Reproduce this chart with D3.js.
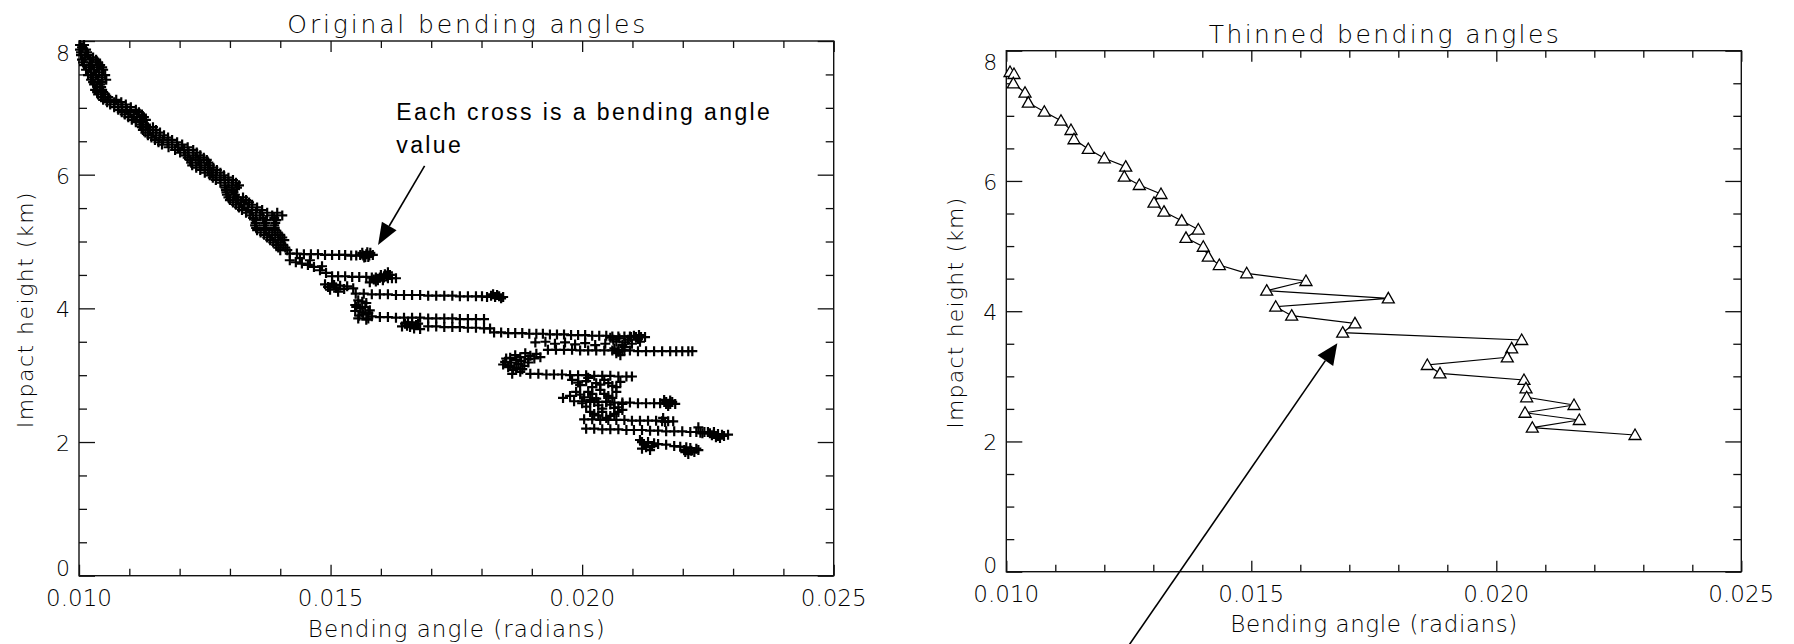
<!DOCTYPE html>
<html>
<head>
<meta charset="utf-8">
<script src="https://cdn.jsdelivr.net/npm/d3@7"></script>
<style>
  html, body { margin: 0; padding: 0; background: #fff; }
  svg { display: block; }
  .lbl { font-family: "DejaVu Sans", sans-serif; font-weight: 200; fill: #000; }
  .note { font-family: "Liberation Sans", Arial, sans-serif; fill: #000; }
</style>
</head>
<body>
<svg id="chart" width="1794" height="644"></svg>
<script>
// ---------------- data ----------------
// Original (unthinned) bending angles: [angle (rad), impact height (km)]
const origUpper = [
  [0.01002,7.94],[0.01010,7.94],[0.01002,7.87],[0.01014,7.87],[0.01004,7.79],[0.01018,7.79],
  [0.01006,7.72],[0.01022,7.72],[0.01034,7.72],[0.01010,7.64],[0.01026,7.64],[0.01042,7.64],
  [0.01014,7.57],[0.01030,7.57],[0.01048,7.57],[0.01018,7.49],[0.01034,7.49],[0.01052,7.49],
  [0.01024,7.42],[0.01038,7.42],[0.01054,7.42],[0.01030,7.35],[0.01042,7.35],
  [0.01032,7.27],[0.01046,7.27],[0.01038,7.20],[0.01052,7.20],
  [0.01048,7.12],[0.01062,7.12],[0.01074,7.12],[0.01062,7.05],[0.01078,7.05],[0.01093,7.05],
  [0.01078,6.97],[0.01095,6.97],[0.01113,6.97],[0.01091,6.90],[0.01109,6.90],[0.01125,6.90],
  [0.01105,6.82],[0.01121,6.82],[0.01133,6.82],[0.01121,6.75],[0.01133,6.75],
  [0.01127,6.67],[0.01141,6.67],[0.01153,6.67],[0.01137,6.59],[0.01153,6.59],[0.01169,6.59],
  [0.01151,6.52],[0.01167,6.52],[0.01185,6.52],[0.01165,6.45],[0.01185,6.45],[0.01205,6.45],
  [0.01191,6.37],[0.01209,6.37],[0.01227,6.37],[0.01211,6.29],[0.01227,6.29],[0.01241,6.29],
  [0.01221,6.22],[0.01237,6.22],[0.01254,6.22],[0.01225,6.14],[0.01243,6.14],[0.01260,6.14],
  [0.01241,6.07],[0.01256,6.07],[0.01274,6.07],[0.01260,5.99],[0.01272,5.99],[0.01288,5.99],
  [0.01272,5.92],[0.01290,5.92],[0.01306,5.92],[0.01290,5.84],[0.01304,5.84],[0.01318,5.84],
  [0.01292,5.77],[0.01304,5.77],[0.01294,5.70],[0.01310,5.70],
  [0.01300,5.62],[0.01316,5.62],[0.01332,5.62],[0.01312,5.55],[0.01328,5.55],[0.01344,5.55],
  [0.01324,5.47],[0.01344,5.47],[0.01364,5.47],[0.01340,5.39],[0.01360,5.39],[0.01384,5.39],[0.01404,5.39],
  [0.01352,5.32],[0.01372,5.32],[0.01392,5.32],[0.01350,5.24],[0.01368,5.24],[0.01388,5.24],
  [0.01354,5.17],[0.01372,5.17],[0.01390,5.17],[0.01368,5.10],[0.01384,5.10],[0.01400,5.10],
  [0.01380,5.02],[0.01396,5.02],[0.01408,5.02],[0.01392,4.95],[0.01406,4.95],
  [0.01400,4.87],[0.01414,4.87]
];
const origUpperDense = [
  [0.01006,7.905],[0.01004,7.83],[0.01016,7.83],[0.01012,7.755],[0.01028,7.755],
  [0.01008,7.68],[0.01024,7.68],[0.01038,7.68],[0.01020,7.605],[0.01036,7.605],[0.01046,7.605],
  [0.01024,7.53],[0.01040,7.53],[0.01028,7.455],[0.01046,7.455],[0.01028,7.385],[0.01046,7.385],
  [0.01036,7.31],[0.01044,7.31],[0.01036,7.235],[0.01048,7.235],[0.01044,7.16],[0.01058,7.16],
  [0.01056,7.085],[0.01070,7.085],[0.01084,7.085],[0.01070,7.01],[0.01086,7.01],[0.01103,7.01],
  [0.01085,6.935],[0.01102,6.935],[0.01119,6.935],[0.01098,6.86],[0.01115,6.86],[0.01129,6.86],
  [0.01113,6.785],[0.01127,6.785],[0.01125,6.71],[0.01137,6.71],[0.01147,6.71],
  [0.01132,6.63],[0.01147,6.63],[0.01161,6.63],[0.01144,6.555],[0.01160,6.555],[0.01177,6.555],
  [0.01158,6.485],[0.01176,6.485],[0.01195,6.485],[0.01178,6.41],[0.01197,6.41],[0.01216,6.41],
  [0.01201,6.33],[0.01218,6.33],[0.01234,6.33],[0.01216,6.255],[0.01232,6.255],[0.01248,6.255],
  [0.01223,6.18],[0.01240,6.18],[0.01257,6.18],[0.01233,6.105],[0.01250,6.105],[0.01267,6.105],
  [0.01250,6.03],[0.01264,6.03],[0.01281,6.03],[0.01266,5.955],[0.01281,5.955],[0.01297,5.955],
  [0.01281,5.88],[0.01297,5.88],[0.01312,5.88],[0.01291,5.805],[0.01304,5.805],[0.01314,5.805],
  [0.01293,5.735],[0.01307,5.735],[0.01297,5.66],[0.01313,5.66],[0.01326,5.66],
  [0.01306,5.585],[0.01322,5.585],[0.01338,5.585],[0.01318,5.51],[0.01336,5.51],[0.01354,5.51],
  [0.01332,5.43],[0.01352,5.43],[0.01374,5.43],[0.01394,5.43],[0.01346,5.355],[0.01366,5.355],[0.01388,5.355],
  [0.01351,5.28],[0.01370,5.28],[0.01390,5.28],[0.01352,5.205],[0.01370,5.205],[0.01389,5.205],
  [0.01361,5.135],[0.01378,5.135],[0.01395,5.135],[0.01374,5.06],[0.01390,5.06],[0.01404,5.06],
  [0.01386,4.985],[0.01401,4.985],[0.01396,4.91],[0.01410,4.91]
];
const origMiddle = [
  // ~4.8 km run
  [0.01419,4.82],[0.01433,4.82],[0.01447,4.81],[0.01461,4.81],[0.01475,4.81],[0.01489,4.80],
  [0.01503,4.80],[0.01517,4.80],[0.01529,4.80],[0.01541,4.79],[0.01551,4.79],[0.01559,4.80],
  [0.01565,4.79],[0.01571,4.81],[0.01577,4.79],[0.01584,4.80],[0.01563,4.83],[0.01569,4.77],
  [0.01573,4.84],[0.01579,4.83],[0.01567,4.76],[0.01575,4.77],
  [0.01439,4.75],[0.01459,4.72],[0.01419,4.72],[0.01431,4.69],[0.01443,4.67],[0.01455,4.65],
  [0.01467,4.62],[0.01483,4.63],[0.01479,4.57],[0.01491,4.53],[0.01503,4.48],
  // ~4.45 km run
  [0.01515,4.48],[0.01529,4.48],[0.01543,4.47],[0.01557,4.47],[0.01571,4.47],[0.01582,4.46],
  [0.01590,4.46],[0.01598,4.46],[0.01606,4.46],[0.01614,4.45],[0.01622,4.45],[0.01630,4.45],
  [0.01578,4.39],[0.01594,4.42],[0.01608,4.51],[0.01614,4.54],[0.01586,4.43],
  [0.01600,4.50],[0.01604,4.42],[0.01612,4.49],[0.01618,4.50],[0.01590,4.40],
  [0.01489,4.36],[0.01503,4.37],[0.01519,4.34],[0.01533,4.33],[0.01545,4.30],[0.01499,4.28],[0.01515,4.25],
  [0.01495,4.32],[0.01511,4.31],[0.01527,4.29],[0.01507,4.35],
  // ~4.2 km run
  [0.01550,4.22],[0.01566,4.22],[0.01582,4.21],[0.01598,4.21],[0.01614,4.21],[0.01630,4.20],
  [0.01646,4.20],[0.01662,4.20],[0.01678,4.20],[0.01694,4.19],[0.01710,4.19],[0.01726,4.19],
  [0.01742,4.19],[0.01757,4.18],[0.01773,4.18],[0.01789,4.18],[0.01801,4.18],[0.01811,4.17],
  [0.01819,4.19],[0.01827,4.17],[0.01835,4.18],[0.01843,4.17],[0.01831,4.20],[0.01839,4.15],[0.01823,4.21],
  [0.01555,4.12],[0.01571,4.08],[0.01559,4.00],[0.01578,3.97],[0.01565,3.91],[0.01582,3.88],
  [0.01571,3.83],[0.01555,3.85],[0.01549,4.05],[0.01563,3.94],
  [0.01563,4.10],[0.01551,4.02],[0.01569,4.02],[0.01575,3.93],[0.01557,3.89],[0.01575,3.85],[0.01549,3.96],
  // ~3.85 km run
  [0.01598,3.87],[0.01614,3.87],[0.01630,3.86],[0.01646,3.86],[0.01662,3.86],[0.01678,3.86],
  [0.01694,3.85],[0.01710,3.85],[0.01726,3.85],[0.01742,3.85],[0.01757,3.84],[0.01773,3.84],
  [0.01789,3.84],[0.01805,3.84],
  [0.01648,3.77],[0.01658,3.72],[0.01670,3.75],[0.01678,3.69],[0.01662,3.79],[0.01652,3.74],
  [0.01654,3.79],[0.01666,3.70],[0.01674,3.77],[0.01642,3.73],
  [0.01694,3.73],[0.01710,3.73],[0.01726,3.72],[0.01742,3.72],[0.01757,3.72],[0.01773,3.71],
  [0.01789,3.71],[0.01805,3.70],[0.01817,3.70]
];
const origLower = [
  // ~3.6 km run
  [0.01825,3.64],[0.01839,3.64],[0.01853,3.63],[0.01867,3.63],[0.01881,3.63],[0.01895,3.62],
  [0.01909,3.62],[0.01922,3.62],[0.01936,3.61],[0.01950,3.61],[0.01964,3.61],[0.01978,3.60],
  [0.01992,3.60],[0.02006,3.60],[0.02020,3.59],[0.02034,3.59],[0.02048,3.59],[0.02060,3.58],
  [0.02072,3.58],[0.02084,3.58],[0.02095,3.58],[0.02107,3.57],[0.02117,3.57],[0.02125,3.57],
  [0.01907,3.49],[0.01927,3.50],[0.01946,3.47],[0.01966,3.49],[0.01986,3.46],[0.02006,3.48],
  [0.02026,3.45],[0.02046,3.47],
  [0.02056,3.56],[0.02068,3.50],[0.02080,3.45],[0.02091,3.53],[0.02103,3.59],[0.02111,3.54],
  [0.02062,3.53],[0.02074,3.55],[0.02086,3.49],[0.02097,3.57],[0.02099,3.47],[0.02113,3.60],[0.02115,3.50],
  // ~3.37 km run
  [0.01932,3.38],[0.01948,3.38],[0.01964,3.38],[0.01980,3.38],[0.01996,3.37],[0.02012,3.37],
  [0.02028,3.37],[0.02044,3.37],[0.02060,3.37],[0.02072,3.37],[0.02084,3.37],[0.02095,3.37],
  [0.02111,3.36],[0.02127,3.36],[0.02143,3.36],[0.02159,3.36],[0.02175,3.36],[0.02187,3.36],
  [0.02199,3.36],[0.02211,3.36],[0.02219,3.36],
  [0.02068,3.33],[0.02084,3.42],[0.02076,3.30],[0.02064,3.40],[0.02072,3.35],[0.02080,3.38],
  [0.01847,3.20],[0.01857,3.26],[0.01867,3.30],[0.01877,3.27],[0.01887,3.33],[0.01897,3.29],
  [0.01909,3.32],[0.01917,3.27],[0.01853,3.12],[0.01863,3.08],[0.01873,3.17],[0.01885,3.14],
  [0.01861,3.02],[0.01877,3.05],[0.01843,3.16],
  [0.01849,3.25],[0.01859,3.19],[0.01869,3.23],[0.01879,3.21],[0.01893,3.24],[0.01857,3.14],
  [0.01869,3.11],[0.01881,3.09],[0.01893,3.19],[0.01905,3.25],
  // ~3.0 km run
  [0.01897,3.02],[0.01913,3.02],[0.01929,3.01],[0.01944,3.01],[0.01960,3.01],[0.01976,3.00],
  [0.01992,3.00],[0.02008,3.00],[0.02024,2.99],[0.02040,2.99],[0.02056,2.99],[0.02072,2.98],
  [0.02088,2.98],[0.02099,2.98]
];
const origBottom = [
  [0.01980,2.93],[0.01996,2.85],[0.02012,2.96],[0.02028,2.88],[0.02044,2.93],[0.02060,2.84],[0.02076,2.90],
  [0.01988,2.75],[0.02004,2.67],[0.02020,2.72],[0.02036,2.78],[0.02052,2.69],[0.02068,2.75],
  [0.02000,2.58],[0.02016,2.63],[0.02032,2.55],[0.02048,2.60],[0.02064,2.51],[0.02080,2.57],
  [0.02016,2.45],[0.02032,2.40],[0.02048,2.36],[0.02064,2.42],[0.02080,2.48],
  [0.01962,2.66],[0.01976,2.69],
  [0.01992,2.89],[0.02008,2.91],[0.02020,2.82],[0.02036,2.86],[0.02052,2.88],[0.02068,2.82],
  [0.01996,2.71],[0.02012,2.75],[0.02028,2.65],[0.02044,2.72],[0.02060,2.66],
  [0.02008,2.53],[0.02024,2.60],[0.02040,2.50],[0.02056,2.56],[0.02072,2.52],
  [0.02024,2.42],[0.02040,2.45],[0.02056,2.39],[0.02072,2.45],
  // ~2.6 km run
  [0.01984,2.61],[0.02000,2.61],[0.02016,2.60],[0.02032,2.60],[0.02048,2.60],[0.02064,2.59],
  [0.02080,2.59],[0.02095,2.59],[0.02111,2.58],[0.02127,2.58],[0.02143,2.58],[0.02155,2.58],
  [0.02167,2.57],[0.02175,2.57],[0.02185,2.57],[0.02163,2.63],[0.02171,2.54],[0.02179,2.60],
  [0.02167,2.60],[0.02175,2.62],
  // ~2.33 km run
  [0.02004,2.34],[0.02020,2.34],[0.02036,2.33],[0.02052,2.33],[0.02068,2.33],[0.02084,2.33],
  [0.02099,2.32],[0.02115,2.32],[0.02131,2.32],[0.02147,2.32],[0.02159,2.31],[0.02171,2.31],
  [0.02181,2.31],[0.02161,2.36],[0.02165,2.30],
  // ~2.15 km run
  [0.02008,2.20],[0.02024,2.20],[0.02040,2.19],[0.02056,2.19],[0.02072,2.19],[0.02088,2.18],
  [0.02103,2.18],[0.02119,2.18],[0.02135,2.17],[0.02151,2.17],[0.02167,2.16],[0.02183,2.16],
  [0.02199,2.16],[0.02215,2.15],[0.02227,2.15],[0.02235,2.14],[0.02243,2.15],[0.02254,2.13],
  [0.02262,2.12],[0.02270,2.12],[0.02278,2.11],[0.02290,2.11],
  [0.02231,2.22],[0.02239,2.13],[0.02262,2.15],[0.02274,2.06],[0.02266,2.07],
  [0.02250,2.15],[0.02270,2.09],[0.02282,2.09],[0.02258,2.10],
  // ~1.9 km run
  [0.02115,2.03],[0.02123,1.96],[0.02131,2.00],[0.02139,1.94],[0.02119,1.90],[0.02135,1.88],
  [0.02151,1.97],[0.02167,1.96],[0.02183,1.94],[0.02195,1.93],[0.02203,1.88],[0.02211,1.82],
  [0.02215,1.91],[0.02223,1.85],[0.02231,1.88],
  [0.02119,2.00],[0.02127,1.92],[0.02143,1.98],[0.02205,1.85],[0.02217,1.87],[0.02207,1.92],[0.02227,1.90]
];

// Thinned bending angles (connected profile)
const thinAngle = [0.010076,0.010157,0.010143,0.010382,0.010449,0.010776,0.011116,0.011320,0.011382,
  0.011673,0.012000,0.012437,0.012408,0.012714,0.013157,0.013014,0.013218,0.013580,0.013918,0.013667,
  0.014020,0.014122,0.014347,0.014906,0.016116,0.015314,0.017796,0.015498,0.015824,0.017116,0.016865,
  0.020518,0.020314,0.020224,0.018592,0.018851,0.020565,0.020606,0.020620,0.021586,0.020586,0.021694,
  0.020735,0.022831];
const thinHeight = [7.673,7.642,7.499,7.355,7.202,7.063,6.925,6.782,6.640,6.491,6.348,6.219,6.065,
  5.938,5.800,5.666,5.528,5.390,5.254,5.127,4.990,4.837,4.709,4.582,4.464,4.315,4.198,4.069,3.931,
  3.814,3.670,3.558,3.430,3.292,3.174,3.046,2.944,2.816,2.678,2.560,2.441,2.329,2.211,2.099];

// Axis ticks and labels
const xMajor = [0.010, 0.015, 0.020, 0.025];
const xMajorLabels = ["0.010", "0.015", "0.020", "0.025"];
const xMinor = [0.011,0.012,0.013,0.014,0.016,0.017,0.018,0.019,0.021,0.022,0.023,0.024];
const yMajor = [0, 2, 4, 6, 8];
const yMinor = [0.5,1,1.5,2.5,3,3.5,4.5,5,5.5,6.5,7,7.5];
const titles = ["Original bending angles", "Thinned bending angles"];
const xTitle = "Bending angle (radians)";
const yTitle = "Impact height (km)";
const noteLines = ["Each cross is a bending angle", "value"];

// ---------------- layout ----------------
const svg = d3.select("#chart");
const panels = [
  { left: 79, right: 833.7, top: 41, bottom: 575.7,
    titleY: 33, titleLen: 358, xTitleY: 61, xTitleLen: 297,
    yTitleX: 33, yTitleLen: 236, xLabelDy: 30.3, yTopShift: 12.5, yBotShift: -7.7 },
  { left: 1006.3, right: 1741.3, top: 50.7, bottom: 571.7,
    titleY: 43, titleLen: 350, xTitleY: 60, xTitleLen: 287,
    yTitleX: 963, yTitleLen: 231, xLabelDy: 30, yTopShift: 11.8, yBotShift: -6.2 }
];

panels.forEach((p, i) => {
  p.x = d3.scaleLinear().domain([0.010, 0.025]).range([p.left, p.right]);
  p.y = d3.scaleLinear().domain([0, 8]).range([p.bottom, p.top]);
  const g = svg.append("g");
  p.g = g;

  // tick marks (inward, on all four sides)
  const tickGroup = (axis, tx, ty) => {
    const a = g.append("g").attr("transform", `translate(${tx},${ty})`).call(axis);
    a.select(".domain").remove();
    a.selectAll("text").remove();
    a.selectAll("line").attr("stroke", "#111").attr("stroke-width", 1.3);
  };
  tickGroup(d3.axisBottom(p.x).tickValues(xMajor).tickSize(-11), 0, p.bottom);
  tickGroup(d3.axisBottom(p.x).tickValues(xMinor).tickSize(-7), 0, p.bottom);
  tickGroup(d3.axisTop(p.x).tickValues(xMajor).tickSize(-11), 0, p.top);
  tickGroup(d3.axisTop(p.x).tickValues(xMinor).tickSize(-7), 0, p.top);
  tickGroup(d3.axisLeft(p.y).tickValues(yMajor).tickSize(-16), p.left, 0);
  tickGroup(d3.axisLeft(p.y).tickValues(yMinor).tickSize(-8), p.left, 0);
  tickGroup(d3.axisRight(p.y).tickValues(yMajor).tickSize(-16), p.right, 0);
  tickGroup(d3.axisRight(p.y).tickValues(yMinor).tickSize(-8), p.right, 0);

  // frame
  g.append("rect")
    .attr("x", p.left).attr("y", p.top)
    .attr("width", p.right - p.left).attr("height", p.bottom - p.top)
    .attr("fill", "none").attr("stroke", "#111").attr("stroke-width", 1.4);

  // x tick labels
  g.selectAll("text.xl").data(xMajor).join("text")
    .attr("class", "lbl xl")
    .attr("x", d => p.x(d))
    .attr("y", p.bottom + p.xLabelDy)
    .attr("text-anchor", "middle")
    .style("font-size", "23px")
    .text((d, k) => xMajorLabels[k]);

  // y tick labels (end labels kept inside the axis span)
  g.selectAll("text.yl").data(yMajor).join("text")
    .attr("class", "lbl yl")
    .attr("x", p.left - 9)
    .attr("y", d => p.y(d) + 9 + (d === 8 ? p.yTopShift - 1.5 : d === 0 ? p.yBotShift - 1.5 : 0))
    .attr("text-anchor", "end")
    .style("font-size", "22px")
    .text(d => d);

  // titles
  const cx = (p.left + p.right) / 2;
  g.append("text").attr("class", "lbl")
    .attr("x", cx + 10).attr("y", p.titleY)
    .attr("text-anchor", "middle")
    .attr("textLength", p.titleLen).attr("lengthAdjust", "spacing")
    .style("font-size", "25px")
    .text(titles[i]);
  g.append("text").attr("class", "lbl")
    .attr("x", cx).attr("y", p.bottom + p.xTitleY)
    .attr("text-anchor", "middle")
    .attr("textLength", p.xTitleLen).attr("lengthAdjust", "spacing")
    .style("font-size", "23px")
    .text(xTitle);
  g.append("text").attr("class", "lbl")
    .attr("transform", `translate(${p.yTitleX},${(p.top + p.bottom) / 2 + 2}) rotate(-90)`)
    .attr("text-anchor", "middle")
    .attr("textLength", p.yTitleLen).attr("lengthAdjust", "spacing")
    .style("font-size", "22px")
    .text(yTitle);
});

// ---------------- left panel: crosses ----------------
const L = panels[0];
const original = [].concat(origUpper, origUpperDense, origMiddle, origLower, origBottom);
L.g.append("g").selectAll("path").data(original).join("path")
  .attr("d", d => {
    const cx = L.x(d[0]), cy = L.y(d[1]), h = 5;
    return `M${cx - h},${cy}H${cx + h}M${cx},${cy - h}V${cy + h}`;
  })
  .attr("stroke", "#000").attr("stroke-width", 2.2).attr("fill", "none");

// ---------------- right panel: thinned profile ----------------
const R = panels[1];
const thinned = thinAngle.map((a, k) => [a, thinHeight[k]]);
R.g.append("path").datum(thinned)
  .attr("d", d3.line().x(d => R.x(d[0])).y(d => R.y(d[1])))
  .attr("fill", "none").attr("stroke", "#000").attr("stroke-width", 1.2);
R.g.append("g").selectAll("path").data(thinned).join("path")
  .attr("d", d => {
    const cx = R.x(d[0]), cy = R.y(d[1]);
    return `M${cx},${cy - 6}L${cx + 6},${cy + 4.5}L${cx - 6},${cy + 4.5}Z`;
  })
  .attr("fill", "#fff").attr("stroke", "#000").attr("stroke-width", 1.3);

// ---------------- annotations ----------------
function arrow(p, from, to, headLen, headHalf) {
  const x0 = p.x(from[0]), y0 = p.y(from[1]);
  const x1 = p.x(to[0]), y1 = p.y(to[1]);
  const dx = x1 - x0, dy = y1 - y0, len = Math.hypot(dx, dy);
  const ux = dx / len, uy = dy / len;
  const bx = x1 - ux * headLen, by = y1 - uy * headLen;
  svg.append("line").attr("x1", x0).attr("y1", y0).attr("x2", bx).attr("y2", by)
    .attr("stroke", "#000").attr("stroke-width", 1.6);
  svg.append("path")
    .attr("d", `M${x1},${y1}L${bx - uy * headHalf},${by + ux * headHalf}L${bx + uy * headHalf},${by - ux * headHalf}Z`)
    .attr("fill", "#000");
}
const noteAnchor = [0.016306, 6.818];
noteLines.forEach((t, k) => {
  const txt = svg.append("text").attr("class", "note")
    .attr("x", L.x(noteAnchor[0]))
    .attr("y", L.y(noteAnchor[1]) + k * 33.3)
    .style("font-size", "23px")
    .style("letter-spacing", "2.4px")
    .text(t);
  if (k === 0) txt.attr("textLength", 376).attr("lengthAdjust", "spacing");
});
arrow(L, [0.016869, 6.131], [0.015944, 4.948], 22, 8.5);
arrow(R, [0.012300, -1.35], [0.016755, 3.507], 21, 9.5);
</script>
</body>
</html>
